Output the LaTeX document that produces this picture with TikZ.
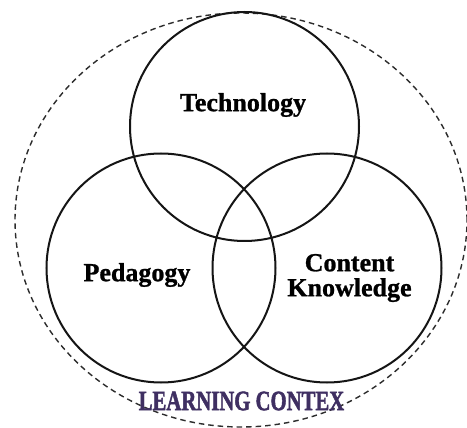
\documentclass[tikz,border=0pt]{standalone}
\usepackage{fontspec}
\setmainfont{Liberation Serif}
\newfontfamily\heavyserif[BoldFeatures={FakeBold=1.0}]{Liberation Serif}
\newfontfamily\heavierserif[BoldFeatures={FakeBold=2.0}]{Liberation Serif}
\definecolor{ctxpurple}{HTML}{3F2F62}
\definecolor{linegray}{HTML}{151515}
\begin{document}
\begin{tikzpicture}[x=1pt,y=-1pt,
  venn/.style={draw=linegray,line width=2pt},
  outer/.style={draw=linegray!90,line width=1.4pt,dash pattern=on 5.5pt off 4pt},
  lbl/.style={font=\heavyserif\bfseries\fontsize{26}{27}\selectfont,text=black,align=center,inner sep=0pt},
  ctx/.style={font=\heavierserif\bfseries\fontsize{28}{30}\selectfont,text=ctxpurple,inner sep=0pt,xscale=0.74}]
\useasboundingbox (0,0) rectangle (467,428);
\fill[white] (0,0) rectangle (467,428);
\draw[outer] (241,220) ellipse [x radius=226pt, y radius=207pt];
\draw[venn] (244.5,126.5) circle [radius=114.5pt];
\draw[venn] (161,268) circle [radius=114.5pt];
\draw[venn] (327,268) circle [radius=114.5pt];
\node[lbl] (tech) at (243,105) {Technology};
\node[lbl] (ped) at (137,275) {Pedagogy};
\node[lbl,font=\heavyserif\bfseries\fontsize{26}{25}\selectfont] (ck) at (349.5,278) {Content\\Knowledge};
\node[ctx] (lc) at (241.5,401) {LEARNING CONTEX};
\end{tikzpicture}
\end{document}
